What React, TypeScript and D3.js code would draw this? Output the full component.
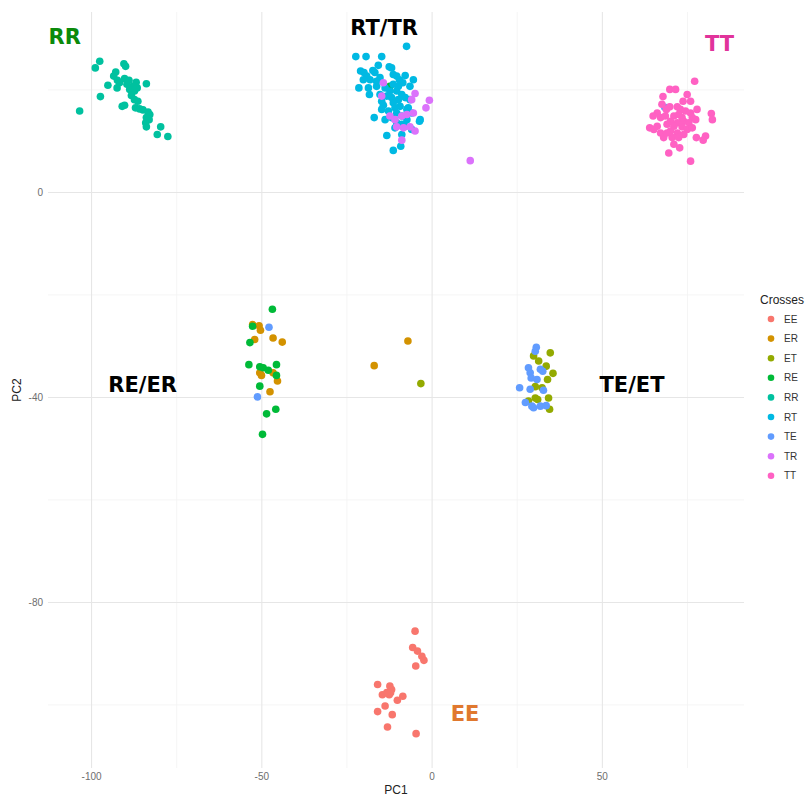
import * as d3 from "d3";

const SvgWidth = 808;
const SvgHeight = 797;

// panel box (ggplot theme_minimal look)
const panelLeft = 48;
const panelRight = 744;
const panelTop = 12;
const panelBottom = 768;

const crosses = ["EE", "ER", "ET", "RE", "RR", "RT", "TE", "TR", "TT"];
const crossColors = ["#F8766D", "#D39200", "#93AA00", "#00BA38", "#00C19F", "#00B9E3", "#619CFF", "#DB72FB", "#FF61C3"];

// PC1, PC2 per cross
const eePoints = [
    [-5.0, -85.6], [-5.7, -88.8], [-4.3, -89.5], [-3.0, -90.5], [-2.4, -91.3], [-4.8, -92.4],
    [-16.0, -96.0], [-12.4, -96.3], [-11.9, -97.0], [-14.6, -98.0], [-12.6, -98.0], [-13.3, -97.6],
    [-8.6, -98.3], [-10.2, -99.1], [-13.8, -100.2], [-16.0, -101.3], [-11.7, -101.9], [-13.1, -104.3],
    [-4.7, -105.6], [-12.2, -97.6]
];
const erPoints = [
    [-52.7, -25.8], [-50.8, -26.0], [-50.4, -26.9], [-52.1, -28.7], [-46.7, -28.4], [-44.0, -29.2],
    [-50.6, -35.2], [-50.1, -35.7], [-46.7, -35.2], [-45.4, -36.8], [-47.6, -38.9], [-7.1, -29.0],
    [-17.0, -33.8]
];
const etPoints = [
    [34.7, -31.3], [29.8, -31.9], [31.3, -32.9], [33.5, -33.9], [35.5, -35.3], [33.9, -36.5],
    [30.3, -37.9], [32.3, -38.1], [34.2, -40.1], [28.3, -40.7], [31.0, -40.4], [34.5, -42.3],
    [30.3, -40.1], [-3.3, -37.3]
];
const rePoints = [
    [-46.9, -22.8], [-52.7, -26.1], [-53.5, -29.3], [-53.8, -33.6], [-50.6, -34.0], [-49.6, -34.2],
    [-48.1, -34.7], [-45.7, -33.6], [-45.7, -35.7], [-50.6, -37.8], [-48.6, -43.2], [-45.9, -42.3],
    [-49.8, -47.2], [-12.4, 20.7]
];
const rrPoints = [
    [-97.6, 25.6], [-98.9, 24.3], [-90.5, 25.1], [-90.0, 24.6], [-92.9, 23.5], [-93.5, 22.7],
    [-92.4, 21.9], [-95.2, 20.9], [-92.5, 20.4], [-90.3, 22.2], [-89.0, 21.9], [-86.9, 21.5],
    [-83.9, 21.2], [-87.8, 20.7], [-88.8, 20.1], [-87.4, 19.8], [-86.6, 20.4], [-88.3, 18.9],
    [-87.4, 18.1], [-86.4, 17.8], [-97.4, 18.7], [-91.0, 16.8], [-90.3, 17.0], [-87.1, 16.5],
    [-85.9, 16.3], [-84.9, 16.1], [-83.4, 15.7], [-82.9, 15.2], [-83.9, 14.6], [-83.1, 14.2],
    [-84.1, 13.6], [-83.9, 12.8], [-79.7, 12.8], [-80.7, 11.3], [-77.6, 10.9], [-103.5, 15.9],
    [-91.8, 21.4], [-89.6, 21.1]
];
const rtPoints = [
    [-7.5, 28.5], [-22.4, 26.5], [-19.4, 26.5], [-14.8, 26.5], [-15.8, 24.8], [-12.6, 24.5],
    [-11.9, 24.3], [-21.0, 23.7], [-20.0, 23.4], [-17.4, 23.8], [-16.8, 23.4], [-19.2, 22.7],
    [-18.2, 22.0], [-20.2, 22.0], [-16.3, 21.7], [-15.3, 22.4], [-11.4, 23.0], [-10.4, 22.7],
    [-7.9, 22.8], [-5.5, 22.0], [-9.6, 22.0], [-8.6, 21.4], [-6.5, 20.7], [-21.5, 20.4],
    [-18.7, 20.4], [-16.3, 20.7], [-13.8, 20.4], [-11.4, 21.1], [-9.9, 20.7], [-12.4, 19.8],
    [-10.4, 19.8], [-8.9, 19.1], [-18.4, 19.1], [-15.3, 19.1], [-13.3, 18.8], [-11.9, 18.5],
    [-9.9, 18.1], [-7.9, 18.5], [-14.8, 17.8], [-14.3, 17.0], [-11.4, 17.5], [-9.4, 16.8],
    [-7.0, 16.5], [-14.8, 16.2], [-12.8, 15.9], [-10.4, 15.5], [-7.4, 16.2], [-6.0, 15.5],
    [-8.9, 14.9], [-11.9, 14.6], [-7.4, 14.2], [-3.5, 14.2], [-3.7, 13.9], [-17.0, 14.6],
    [-13.8, 14.2], [-10.4, 13.6], [-8.9, 13.3], [-10.9, 12.6], [-7.9, 12.9], [-6.0, 12.3],
    [-13.3, 11.1], [-8.9, 11.3], [-9.2, 9.0], [-11.4, 8.2], [-6.5, 18.1], [-10.9, 16.5]
];
const tePoints = [
    [30.6, -30.2], [30.3, -31.0], [28.3, -34.2], [28.8, -35.2], [29.1, -36.2], [31.8, -34.5],
    [32.5, -34.9], [25.7, -38.1], [28.8, -38.4], [32.7, -38.6], [27.4, -41.0], [29.3, -41.7],
    [29.8, -42.0], [31.8, -41.7], [33.5, -41.6], [30.8, -36.5], [-47.9, -26.3], [-51.3, -39.9],
    [68.3, 16.6]
];
const trPoints = [
    [-14.3, 21.4], [-5.0, 19.3], [-0.8, 18.0], [-6.0, 18.1], [-1.8, 16.5], [-5.5, 15.5],
    [-12.4, 14.9], [-8.9, 14.9], [-7.4, 15.2], [-8.4, 12.6], [-6.5, 12.8], [-5.0, 12.0],
    [-10.4, 12.8], [-8.9, 10.2], [11.2, 6.2], [-14.8, 18.8], [-10.9, 14.2]
];
const ttPoints = [
    [77.1, 21.7], [69.8, 20.1], [71.5, 20.1], [74.9, 19.1], [67.8, 18.7], [73.7, 17.8],
    [75.9, 17.8], [68.8, 16.2], [67.5, 17.2], [69.8, 16.7], [72.0, 16.7], [72.9, 16.2],
    [74.4, 15.9], [77.8, 16.2], [75.9, 15.5], [66.1, 15.5], [64.9, 14.9], [67.1, 14.6],
    [68.5, 14.9], [71.0, 14.9], [72.4, 15.2], [76.4, 14.6], [82.0, 15.4], [82.3, 14.2],
    [70.0, 13.9], [72.0, 13.6], [73.9, 13.9], [75.4, 13.6], [77.4, 14.2], [63.9, 12.6],
    [66.1, 12.9], [69.0, 13.3], [71.0, 12.9], [73.4, 12.8], [74.9, 12.3], [76.4, 12.6],
    [67.1, 11.6], [70.0, 12.0], [72.0, 11.6], [73.9, 11.3], [68.0, 10.7], [70.5, 10.7],
    [72.4, 10.7], [80.3, 11.0], [79.6, 10.2], [77.6, 10.7], [71.0, 9.4], [72.7, 8.7],
    [69.5, 7.7], [75.9, 6.1], [65.1, 12.3], [69.0, 11.6], [73.4, 14.6]
];
const pointsByCross = [eePoints, erPoints, etPoints, rePoints, rrPoints, rtPoints, tePoints, trPoints, ttPoints];

const xMajor = [-100, -50, 0, 50];
const xMinor = [-75, -25, 25, 75];
const yMajor = [0, -40, -80];
const yMinor = [20, -20, -60, -100];

// annotate() text labels
const groupLabels = ["RR", "RT/TR", "TT", "RE/ER", "TE/ET", "EE"];
const groupLabelX = [-107.9, -14.1, 84.4, -85.0, 58.7, 9.7];
const groupLabelY = [30.3, 32.0, 29.0, -37.6, -37.6, -101.8];
const groupLabelColors = ["#0B8A0B", "#000000", "#E1339B", "#000000", "#000000", "#E0782E"];

const allPoints = pointsByCross.flat();
const xExt = d3.extent(allPoints, d => d[0]) as [number, number];
const yExt = d3.extent(allPoints, d => d[1]) as [number, number];
const xPad = (xExt[1] - xExt[0]) * 0.05;
const yPad = (yExt[1] - yExt[0]) * 0.05;

function App() {
    const xScale = d3.scaleLinear()
        .domain([xExt[0] - xPad, xExt[1] + xPad])
        .range([panelLeft, panelRight]);
    const yScale = d3.scaleLinear()
        .domain([yExt[0] - yPad, yExt[1] + yPad])
        .range([panelBottom, panelTop]);

    const tickFont = "Liberation Sans, Arial, sans-serif";

    return (
        <svg width={SvgWidth} height={SvgHeight} style={{position: "absolute", left: 0, top: 0}}>
            <rect x={0} y={0} width={SvgWidth} height={SvgHeight} fill="#ffffff" />
            {/* minor grid */}
            {xMinor.map(v => (
                <line key={"xm" + v} x1={xScale(v)} x2={xScale(v)} y1={panelTop} y2={panelBottom}
                      stroke="#F2F2F2" strokeWidth={0.8} />
            ))}
            {yMinor.map(v => (
                <line key={"ym" + v} x1={panelLeft} x2={panelRight} y1={yScale(v)} y2={yScale(v)}
                      stroke="#F2F2F2" strokeWidth={0.8} />
            ))}
            {/* major grid */}
            {xMajor.map(v => (
                <line key={"xM" + v} x1={xScale(v)} x2={xScale(v)} y1={panelTop} y2={panelBottom}
                      stroke="#E6E6E6" strokeWidth={1.1} />
            ))}
            {yMajor.map(v => (
                <line key={"yM" + v} x1={panelLeft} x2={panelRight} y1={yScale(v)} y2={yScale(v)}
                      stroke="#E6E6E6" strokeWidth={1.1} />
            ))}

            {/* points */}
            {pointsByCross.map((pts, i) => (
                <g key={crosses[i]} fill={crossColors[i]}>
                    {pts.map((p, j) => (
                        <circle key={j} cx={xScale(p[0])} cy={yScale(p[1])} r={3.8} />
                    ))}
                </g>
            ))}

            {/* group labels */}
            {groupLabels.map((lab, i) => (
                <text key={lab} x={xScale(groupLabelX[i])} y={yScale(groupLabelY[i])}
                      textAnchor="middle" dominantBaseline="central"
                      fontFamily="DejaVu Sans, Verdana, sans-serif" fontWeight="bold" fontSize={21}
                      fill={groupLabelColors[i]}>
                    {lab}
                </text>
            ))}

            {/* axis tick labels */}
            {xMajor.map(v => (
                <text key={"xt" + v} x={xScale(v)} y={panelBottom + 12} textAnchor="middle"
                      fontFamily={tickFont} fontSize={10} fill="#6E6E6E">
                    {v}
                </text>
            ))}
            {yMajor.map(v => (
                <text key={"yt" + v} x={panelLeft - 5} y={yScale(v) + 3.5} textAnchor="end"
                      fontFamily={tickFont} fontSize={10} fill="#6E6E6E">
                    {v}
                </text>
            ))}

            {/* axis titles */}
            <text x={(panelLeft + panelRight) / 2} y={794} textAnchor="middle"
                  fontFamily={tickFont} fontSize={12} fill="#222">PC1</text>
            <text transform={`translate(21, ${(panelTop + panelBottom) / 2}) rotate(-90)`} textAnchor="middle"
                  fontFamily={tickFont} fontSize={12} fill="#222">PC2</text>

            {/* legend */}
            <g transform="translate(760, 300)">
                <text x={0} y={4} fontFamily={tickFont} fontSize={12} fill="#222">Crosses</text>
                {crosses.map((c, i) => (
                    <g key={"lg" + c} transform={`translate(0, ${19 + i * 19.6})`}>
                        <circle cx={11} cy={0} r={3.3} fill={crossColors[i]} />
                        <text x={24} y={3.5} fontFamily={tickFont} fontSize={10} fill="#333">{c}</text>
                    </g>
                ))}
            </g>
        </svg>
    );
}

export default App;
